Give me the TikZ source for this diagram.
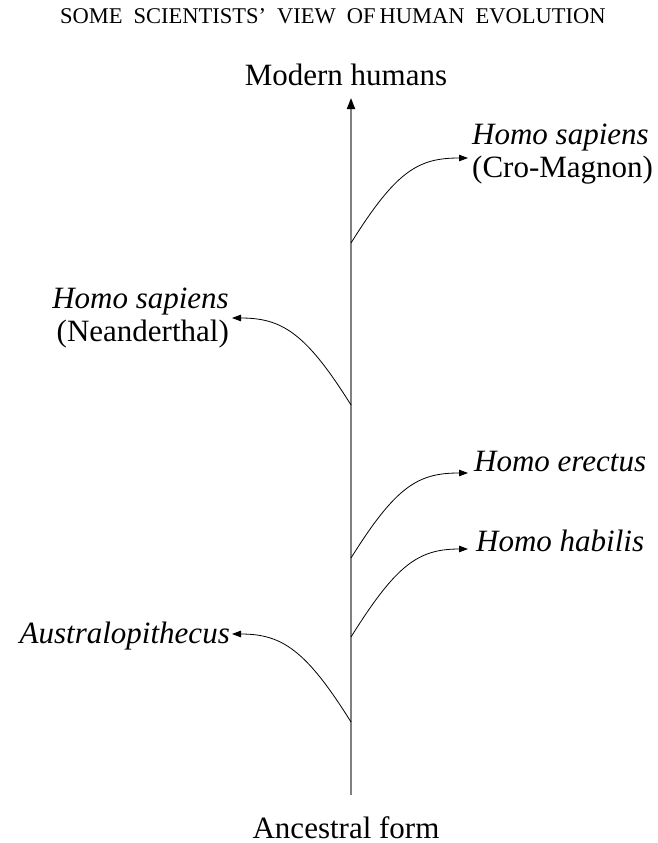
\documentclass[tikz,border=0pt]{standalone}
\usepackage{fontspec}
\setmainfont{Liberation Serif}
\usetikzlibrary{arrows.meta}
\begin{document}
\begin{tikzpicture}[x=1pt,y=1pt,
  lab/.style={inner sep=0pt, font=\fontsize{31}{32.5}\selectfont},
  ttl/.style={inner sep=0pt, font=\fontsize{22.5}{24}\selectfont},
  trunk/.style={draw=black!50, line width=1.8pt, -{Triangle[length=11pt,width=8pt,color=black]}},
  branch/.style={draw=black, line width=0.8pt, -{Triangle[length=9pt,width=6.5pt]}},
  goright/.style={out=58, in=180, out distance=85pt, in distance=50pt},
  goleft/.style={out=122, in=0, out distance=85pt, in distance=50pt}]
\useasboundingbox (0,0) rectangle (658,-843);

\node[ttl, anchor=base west] (title) at (60,-24)
  {SOME\hspace{11pt}SCIENTISTS’\hspace{11pt}VIEW\hspace{11pt}OF\hspace{4pt}HUMAN\hspace{11pt}EVOLUTION};

\node[lab, anchor=base] (top) at (346,-85) {Modern humans};
\node[lab, anchor=base] (anc) at (346,-838) {Ancestral form};

\coordinate (base) at (351,-795);
\coordinate (apex) at (351,-98);
\coordinate (b1) at (351,-243);
\coordinate (b2) at (351,-405);
\coordinate (b3) at (351,-558);
\coordinate (b4) at (351,-637);
\coordinate (b5) at (351,-722);

\node[lab, anchor=west, align=left] (cro) at (472,-154)
  {\textit{Homo sapiens}\\(Cro-Magnon)};
\node[lab, anchor=east, align=right] (nea) at (229,-318)
  {\textit{Homo sapiens}\\(Neanderthal)};
\node[lab, anchor=base west] (ere) at (474,-471) {\textit{Homo erectus}};
\node[lab, anchor=base west] (hab) at (476,-551) {\textit{Homo habilis}};
\node[lab, anchor=base east] (aus) at (230,-643) {\textit{Australopithecus}};

\draw[trunk] (base) -- (apex);

\draw[branch] (b1) to[goright] ([xshift=-4pt,yshift=-4pt]cro.west);
\draw[branch] (b2) to[goleft] ([xshift=3pt]nea.east);
\draw[branch] (b3) to[goright] ([xshift=-6pt,yshift=-2pt]ere.base west);
\draw[branch] (b4) to[goright] ([xshift=-8pt,yshift=2pt]hab.base west);
\draw[branch] (b5) to[goleft] ([xshift=2pt,yshift=9pt]aus.base east);
\end{tikzpicture}
\end{document}
